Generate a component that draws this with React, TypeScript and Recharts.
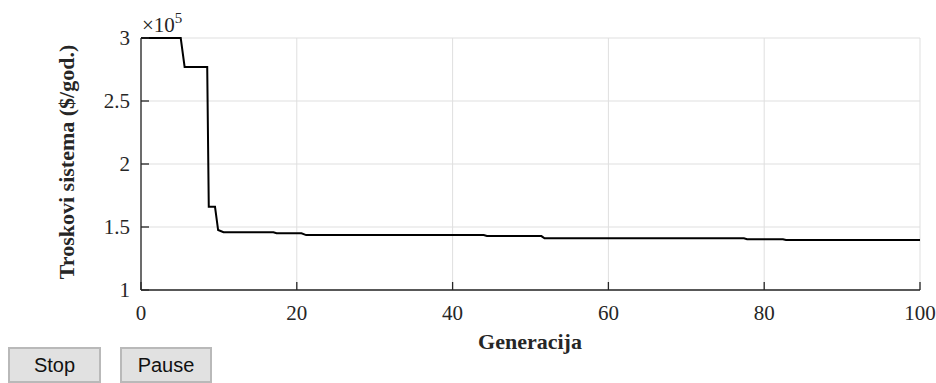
import React from 'react';
import { LineChart, Line, CartesianGrid, XAxis, YAxis } from 'recharts';

// generation (x) and best system cost in $/year (y)
const generations = [0, 5.1, 5.6, 8.5, 8.7, 9.5, 9.9, 10.6, 17, 17.4, 20.6, 21.2, 44, 44.4, 51.4, 51.8, 77.4, 77.8, 82.4, 82.8, 100];
const costs = [300000, 300000, 277000, 277000, 166000, 166000, 147600, 145800, 145800, 145000, 145000, 143600, 143600, 142800, 142800, 141000, 141000, 140300, 140300, 139700, 139700];

const xTicks = [0, 20, 40, 60, 80, 100];
const yTicks = [100000, 150000, 200000, 250000, 300000];

const serif = '"Liberation Serif", "Times New Roman", serif';
const axisColor = '#262626';

const buttonStyle: React.CSSProperties = {
  position: 'absolute',
  top: 347,
  height: 36,
  boxSizing: 'border-box',
  background: '#e1e1e1',
  border: '2px solid #b9b9b9',
  fontFamily: '"Liberation Sans", Arial, sans-serif',
  fontSize: 20,
  color: '#111',
  padding: 0,
};

export default function App() {
  const data = generations.map((g, i) => ({ gen: g, cost: costs[i] }));

  return (
    <div style={{ position: 'absolute', left: 0, top: 0, width: 936, height: 383, background: '#fff', overflow: 'hidden' }}>
      <LineChart width={936} height={340} data={data} margin={{ top: 38, right: 16, bottom: 0, left: 81 }}>
        <CartesianGrid stroke="#dfdfdf" strokeWidth={1} />
        <XAxis
          dataKey="gen"
          type="number"
          domain={[0, 100]}
          ticks={xTicks}
          height={50}
          axisLine={{ stroke: axisColor, strokeWidth: 1.3 }}
          tickLine={{ stroke: axisColor, strokeWidth: 1.3 }}
          tickSize={-8}
          tickMargin={23}
          tick={{ fill: '#262626', fontFamily: serif, fontSize: 21 }}
        />
        <YAxis
          type="number"
          domain={[100000, 300000]}
          ticks={yTicks}
          width={60}
          axisLine={{ stroke: axisColor, strokeWidth: 1.3 }}
          tickLine={{ stroke: axisColor, strokeWidth: 1.3 }}
          tickSize={-8}
          tickMargin={19}
          tickFormatter={(v: number) => String(v / 100000)}
          tick={{ fill: '#262626', fontFamily: serif, fontSize: 21 }}
        />
        <Line
          type="linear"
          dataKey="cost"
          stroke="#000"
          strokeWidth={2}
          dot={false}
          isAnimationActive={false}
        />
      </LineChart>
      <div
        style={{
          position: 'absolute',
          left: 67,
          top: 162,
          transform: 'translate(-50%, -50%) rotate(-90deg)',
          whiteSpace: 'nowrap',
          fontFamily: serif,
          fontSize: 22,
          fontWeight: 'bold',
          color: '#262626',
          lineHeight: 1,
        }}
      >
        Troskovi sistema ($/god.)
      </div>
      <div
        style={{
          position: 'absolute',
          left: 530,
          top: 342,
          transform: 'translate(-50%, -50%)',
          whiteSpace: 'nowrap',
          fontFamily: serif,
          fontSize: 22,
          fontWeight: 'bold',
          color: '#262626',
          lineHeight: 1,
        }}
      >
        Generacija
      </div>
      <div style={{ position: 'absolute', left: 142, top: 15, fontFamily: serif, fontSize: 21, color: '#262626', lineHeight: 1, whiteSpace: 'nowrap' }}>
        ×10<span style={{ fontSize: 15, position: 'relative', top: -9 }}>5</span>
      </div>
      <button style={{ ...buttonStyle, left: 8, width: 93 }}>Stop</button>
      <button style={{ ...buttonStyle, left: 120, width: 92 }}>Pause</button>
    </div>
  );
}
